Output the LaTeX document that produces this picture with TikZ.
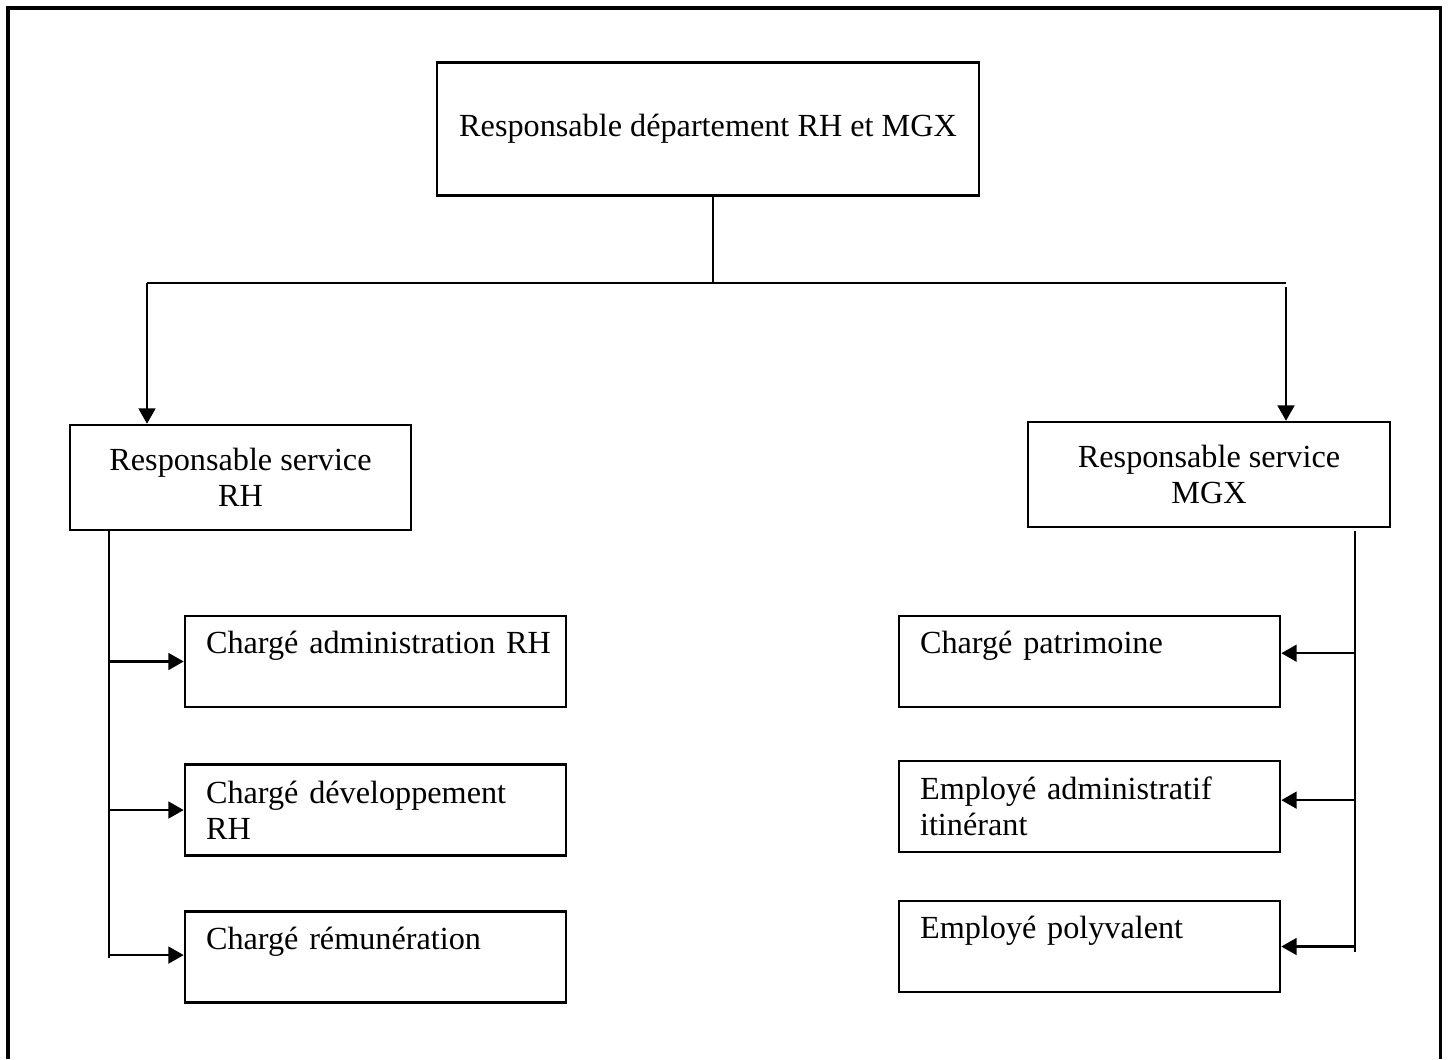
\documentclass[tikz,border=0pt]{standalone}
\usepackage{fontspec}
\setmainfont{Liberation Serif}
\usetikzlibrary{arrows.meta,positioning}
\tikzset{
    direction/.style = {rectangle, draw=black, line width=0.9pt, minimum width=195pt, minimum height=48pt, align=center},
    responsable/.style = {rectangle, draw=black, line width=0.9pt, minimum height=37.8pt, align=center},
    poste/.style = {rectangle, draw=black, line width=0.9pt, minimum height=32.8pt, text width=132pt, inner xsep=2.6pt, align=left, execute at begin node={\leftskip=5pt}},
    poste seul/.style = {poste, text depth=13.5pt},
    lien/.style = {draw=black, line width=0.5pt},
    fleche/.style = {draw=black, line width=0.9pt, -{Triangle[length=5.5pt,width=6pt]}},
    cadre/.style = {draw=black, line width=1.1pt}
}
\begin{document}
\begin{tikzpicture}[x=0.36pt, y=-0.36pt, font=\fontsize{11.6}{12.8}\selectfont]
    \useasboundingbox (0,0) rectangle (1448,1059);
    \draw[cadre] (8,1059) -- (8,8) -- (1440,8) -- (1440,1059);

    \node [direction] (dept) at (708,129) {Responsable département RH et MGX};
    \node [responsable, minimum width=122.8pt] (rh) at (240.5,477.5) {Responsable service\\RH};
    \node [responsable, minimum width=130.3pt] (mgx) at (1209,474.5) {Responsable service\\MGX};

    \node [poste seul] (adm) at (375.5,661.5) {Chargé administration RH};
    \node [poste] (dev) at (375.5,810) {Chargé développement\\RH};
    \node [poste seul] (rem) at (375.5,957) {Chargé rémunération};

    \node [poste seul] (pat) at (1089.5,661.5) {Chargé patrimoine};
    \node [poste] (emp) at (1089.5,806.5) {Employé administratif\\itinérant};
    \node [poste seul] (pol) at (1089.5,946.5) {Employé polyvalent};

    \coordinate (jonction) at (713,283);
    \coordinate (coinRH) at (147,283);
    \coordinate (coinMGX) at (1286,283);
    \draw [lien] (jonction |- dept.south) -- (jonction);
    \draw [lien] (coinRH) -- (coinMGX);
    \draw [fleche] (coinRH) -- (coinRH |- rh.north);
    \draw [fleche] ([yshift=-1.4pt]coinMGX) -- (coinMGX |- mgx.north);

    \coordinate (busRH) at (109,958);
    \coordinate (busMGX) at (1355,952);
    \draw [lien] (busRH |- rh.south) -- (busRH);
    \draw [lien] ([yshift=-1pt]busMGX |- mgx.south) -- (busMGX);

    \draw [fleche] (busRH |- adm.west) -- (adm.west);
    \draw [fleche] (busRH |- dev.west) -- (dev.west);
    \draw [fleche] ([yshift=0.7pt]busRH |- rem.west) -- ([yshift=0.7pt]rem.west);
    \draw [fleche] ([yshift=3pt]busMGX |- pat.east) -- ([yshift=3pt]pat.east);
    \draw [fleche] ([yshift=2.3pt]busMGX |- emp.east) -- ([yshift=2.3pt]emp.east);
    \draw [fleche] (busMGX |- pol.east) -- (pol.east);
\end{tikzpicture}
\end{document}
